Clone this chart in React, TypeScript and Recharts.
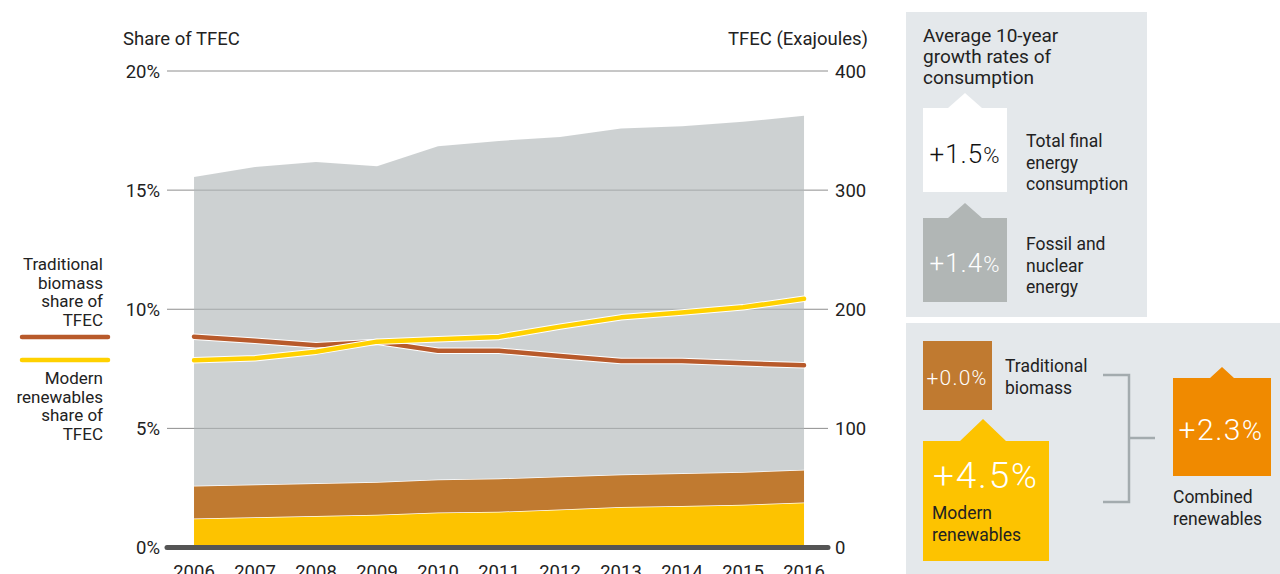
import React from 'react';
import { ComposedChart, Area, Line, XAxis, YAxis, CartesianGrid, ReferenceLine } from 'recharts';

const years = [2006, 2007, 2008, 2009, 2010, 2011, 2012, 2013, 2014, 2015, 2016];
// Stacked TFEC (EJ), right axis
const modernRenewablesEJ = [24.4, 25.3, 26.5, 27.5, 29.3, 30.0, 31.9, 33.9, 34.8, 35.9, 37.7];
const traditionalBiomassEJ = [27.4, 27.6, 27.4, 27.5, 27.7, 28.0, 27.6, 27.4, 27.6, 27.5, 27.6];
const fossilNuclearEJ = [259.2, 266.5, 269.7, 265.0, 279.8, 283.3, 285.2, 290.4, 291.3, 293.9, 297.1];
// Shares of TFEC (%), left axis
const traditionalBiomassShare = [8.85, 8.68, 8.49, 8.63, 8.26, 8.26, 8.04, 7.83, 7.83, 7.73, 7.65];
const modernRenewablesShare = [7.86, 7.94, 8.22, 8.64, 8.74, 8.84, 9.27, 9.66, 9.86, 10.08, 10.44];

const leftTicks = [0, 5, 10, 15, 20];
const rightTicks = [0, 100, 200, 300, 400];

const data = years.map((year, i) => ({
  year,
  modern: modernRenewablesEJ[i],
  trad: traditionalBiomassEJ[i],
  fossil: fossilNuclearEJ[i],
  tradShare: traditionalBiomassShare[i],
  modernShare: modernRenewablesShare[i],
}));

const FONT = 'Roboto, "Noto Sans", sans-serif';
const TXT = '#222';

const XTick = (props: any) => {
  const { x, payload } = props;
  return (
    <text x={x} y={578} textAnchor="middle" fill={TXT} fontSize={18.5} fontFamily={FONT}>
      {payload.value}
    </text>
  );
};

const Lines = ({ x, y, lines, size = 17.5, lh = 21.5, anchor = 'start', fill = TXT }: any) => (
  <text x={x} y={y} fontSize={size} fontFamily={FONT} fill={fill} textAnchor={anchor}>
    {lines.map((l: string, i: number) => (
      <tspan key={i} x={x} y={y + i * lh}>{l}</tspan>
    ))}
  </text>
);

const Pct = ({ x, y, num, big, small, fill, anchor = 'middle', weight = 300, ls = 1 }: any) => (
  <text x={x} y={y} textAnchor={anchor} fill={fill} fontFamily={FONT} fontWeight={weight} letterSpacing={ls}>
    <tspan fontSize={big}>{num}</tspan>
    <tspan fontSize={small}>%</tspan>
  </text>
);

export default function App() {
  return (
    <div style={{ position: 'fixed', left: 0, top: 0, width: 1280, height: 574, overflow: 'hidden', background: '#fff' }}>
      <div style={{ position: 'absolute', left: 0, top: 0 }}>
        <ComposedChart width={1280} height={574} data={data} margin={{ top: 71, right: 392, bottom: 0, left: 107 }}>
          <CartesianGrid yAxisId="left" vertical={false} stroke="#8e8e8e" strokeWidth={1} />
          <XAxis
            dataKey="year"
            type="number"
            domain={[2005.557, 2016.393]}
            ticks={years}
            allowDataOverflow
            axisLine={false}
            tickLine={false}
            height={26.5}
            tick={<XTick />}
            interval={0}
          />
          <YAxis
            yAxisId="left"
            orientation="left"
            width={60}
            domain={[0, 20]}
            ticks={leftTicks}
            tickFormatter={(v: number) => `${v}%`}
            axisLine={false}
            tickLine={false}
            tickMargin={1}
            tick={{ fill: TXT, fontSize: 18.5, fontFamily: FONT }}
          />
          <YAxis
            yAxisId="right"
            orientation="right"
            width={60}
            domain={[0, 400]}
            ticks={rightTicks}
            axisLine={false}
            tickLine={false}
            tickMargin={1}
            tick={{ fill: TXT, fontSize: 18.5, fontFamily: FONT, textAnchor: 'start' }}
          />
          <Area yAxisId="right" type="linear" dataKey="modern" stackId="tfec" fill="#fdc300" fillOpacity={1} stroke="#fff" strokeWidth={1.5} isAnimationActive={false} />
          <Area yAxisId="right" type="linear" dataKey="trad" stackId="tfec" fill="#c07a30" fillOpacity={1} stroke="#fff" strokeWidth={1.5} isAnimationActive={false} />
          <Area yAxisId="right" type="linear" dataKey="fossil" stackId="tfec" fill="#b0b7b8" fillOpacity={0.634} stroke="none" isAnimationActive={false} />
          <Line yAxisId="left" type="linear" dataKey="tradShare" stroke="#fff" strokeWidth={6.5} dot={false} strokeLinecap="round" strokeLinejoin="round" isAnimationActive={false} />
          <Line yAxisId="left" type="linear" dataKey="tradShare" stroke="#b85a2b" strokeWidth={4.5} dot={false} strokeLinecap="round" strokeLinejoin="round" isAnimationActive={false} />
          <Line yAxisId="left" type="linear" dataKey="modernShare" stroke="#fff" strokeWidth={6.5} dot={false} strokeLinecap="round" strokeLinejoin="round" isAnimationActive={false} />
          <Line yAxisId="left" type="linear" dataKey="modernShare" stroke="#ffd100" strokeWidth={4.5} dot={false} strokeLinecap="round" strokeLinejoin="round" isAnimationActive={false} />
          <ReferenceLine yAxisId="left" y={0} stroke="#555" strokeWidth={5} strokeLinecap="round" />
        </ComposedChart>
      </div>
      <svg width={1280} height={574} style={{ position: 'absolute', left: 0, top: 0, pointerEvents: 'none' }}>
        {/* axis titles */}
        <text x={123} y={45} fontSize={18.5} fontFamily={FONT} fill={TXT}>Share of TFEC</text>
        <text x={868} y={45} fontSize={18.5} fontFamily={FONT} fill={TXT} textAnchor="end">TFEC (Exajoules)</text>

        {/* left legend */}
        <Lines x={103} y={270} lines={['Traditional', 'biomass', 'share of', 'TFEC']} size={17} lh={18.6} anchor="end" />
        <line x1={22} y1={337} x2={108} y2={337} stroke="#b85a2b" strokeWidth={4.5} strokeLinecap="round" />
        <line x1={22} y1={360} x2={108} y2={360} stroke="#ffd100" strokeWidth={4.5} strokeLinecap="round" />
        <Lines x={103} y={384} lines={['Modern', 'renewables', 'share of', 'TFEC']} size={17} lh={18.6} anchor="end" />

        {/* right panel: top */}
        <rect x={906} y={12} width={241} height={305} fill="#e4e8eb" />
        <Lines x={923} y={42} lines={['Average 10-year', 'growth rates of', 'consumption']} size={19} lh={21} />
        <polygon points="923,108 948,108 965,93 982,108 1007,108 1007,192 923,192" fill="#ffffff" />
        <Pct x={965} y={163} num="+1.5" big={26} small={22} fill="#111" />
        <Lines x={1026} y={147} lines={['Total final', 'energy', 'consumption']} />
        <polygon points="923,218 948,218 965,203 982,218 1007,218 1007,302 923,302" fill="#b1b6b5" />
        <Pct x={965} y={272} num="+1.4" big={26} small={22} fill="#fff" />
        <Lines x={1026} y={250} lines={['Fossil and', 'nuclear', 'energy']} />

        {/* right panel: bottom */}
        <rect x={906} y={323} width={374} height={251} fill="#e4e8eb" />
        <rect x={923} y={341} width={69} height={69} fill="#c07a30" />
        <Pct x={957} y={385} num="+0.0" big={21} small={20} fill="#fff" ls={1.2} />
        <Lines x={1005} y={372} lines={['Traditional', 'biomass']} />
        <polygon points="923,441 960,441 983,419 1006,441 1049,441 1049,561 923,561" fill="#fdc300" />
        <Pct x={933} y={488} num="+4.5" big={37} small={35} fill="#fff" anchor="start" ls={1.8} />
        <Lines x={932} y={519} lines={['Modern', 'renewables']} />
        <path d="M1103,375 H1129 V502 H1103 M1129,438 H1155" fill="none" stroke="#a3abae" strokeWidth={2.5} />
        <polygon points="1173,378 1210,378 1222,367 1234,378 1271,378 1271,476 1173,476" fill="#f08a00" />
        <Pct x={1221} y={440} num="+2.3" big={30} small={27} fill="#fff" ls={1.5} />
        <Lines x={1173} y={503} lines={['Combined', 'renewables']} />
      </svg>
    </div>
  );
}
